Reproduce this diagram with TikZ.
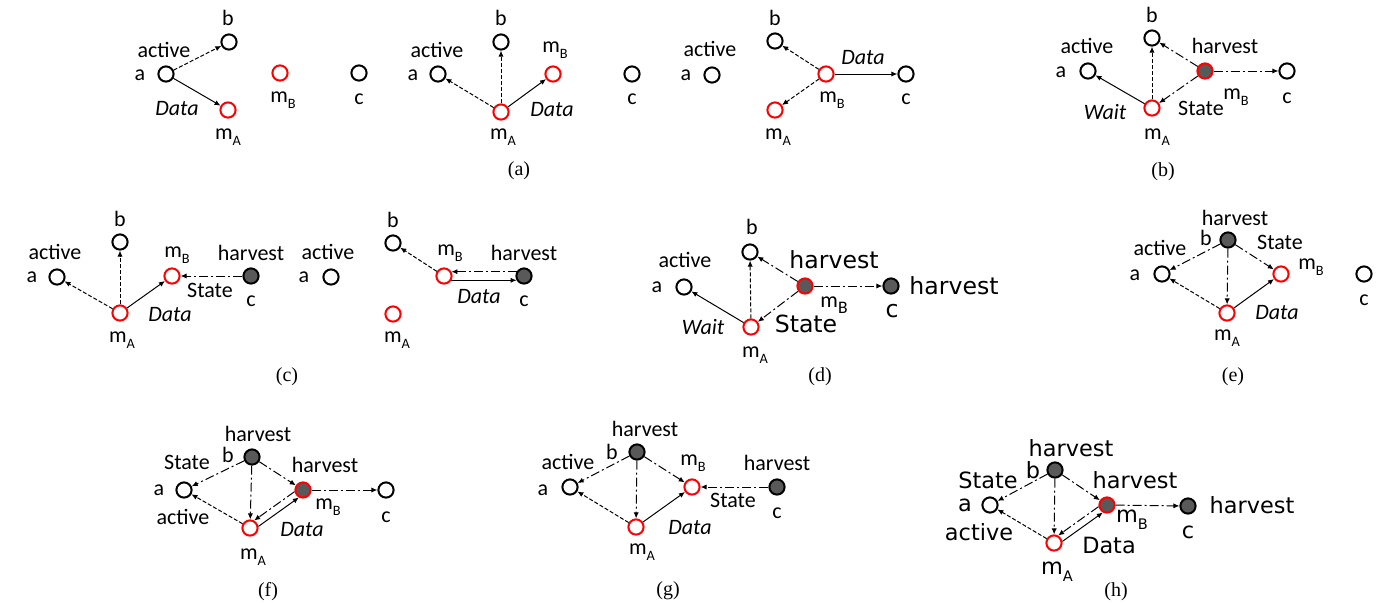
\documentclass[tikz,border=0pt]{standalone}
\usepackage{fontspec}
\setmainfont{Liberation Serif}
\newfontfamily\calfont{Carlito}
\newfontfamily\dvfont{DejaVu Sans}
\usetikzlibrary{arrows.meta}
\definecolor{hgray}{RGB}{89,89,89}
\newcommand{\mlab}[1]{m\raisebox{-0.3em}{\scalebox{0.65}{#1}}}
\newcommand{\mlabb}[1]{m\raisebox{-0.3em}{\scalebox{0.8}{#1}}}
\tikzset{
  nd/.style={circle, draw=black, line width=1pt, minimum size=7.6pt, inner sep=0pt},
  rd/.style={nd, draw=red},
  gd/.style={nd, fill=hgray},
  grd/.style={nd, draw=red, fill=hgray},
  lb/.style={inner sep=0pt, font=\calfont\fontsize{11}{13}\selectfont},
  itl/.style={inner sep=0pt, font=\calfont\itshape\fontsize{11}{13}\selectfont},
  dl/.style={inner sep=0pt, font=\dvfont\fontsize{11.8}{13}\selectfont},
  dh/.style={inner sep=0pt, font=\dvfont\fontsize{11.2}{13}\selectfont},
  capt/.style={inner sep=0pt, font=\fontsize{10}{12}\selectfont},
  sol/.style={-{Latex[length=3pt,width=2.6pt]}, line width=0.5pt},
  dsh/.style={sol, dash pattern=on 2pt off 1pt},
  dd/.style={sol, dash pattern=on 4.5pt off 1.5pt on 1pt off 1.5pt},
}
\begin{document}
\begin{tikzpicture}[x=0.5pt,y=-0.5pt]
\useasboundingbox (0,0) rectangle (1394,602);
% ---------- panel 1 (a left)
\node[nd] (p1a) at (166,74) {};
\node[nd] (p1b) at (229,42) {};
\node[rd] (p1mA) at (228,110) {};
\node[rd] (p1mB) at (280,73) {};
\node[nd] (p1c) at (359,73) {};
\node[lb] (p1la) at (140,75) {a};
\node[lb] (p1lact) at (164,50) {active};
\node[lb] (p1lb) at (228,18) {b};
\node[itl] (p1ld) at (177,109) {Data};
\node[lb] (p1lmA) at (228,137) {\mlab{A}};
\node[lb] (p1lmB) at (283,100) {\mlab{B}};
\node[lb] (p1lc) at (359,99) {c};
\draw[dsh] (p1a) -- (p1b);
\draw[sol] (p1a) -- (p1mA);
% ---------- panel 2 (a middle)
\node[nd] (p2a) at (438,74) {};
\node[nd] (p2b) at (501,42) {};
\node[rd] (p2mA) at (501,112) {};
\node[rd] (p2mB) at (553,74) {};
\node[nd] (p2c) at (632,74) {};
\node[lb] (p2la) at (413,75) {a};
\node[lb] (p2lact) at (437,50) {active};
\node[lb] (p2lb) at (501,18) {b};
\node[lb] (p2lmB) at (555,50) {\mlab{B}};
\node[itl] (p2ld) at (552,110) {Data};
\node[lb] (p2lmA) at (503,137) {\mlab{A}};
\node[lb] (p2lc) at (632,99) {c};
\draw[dsh] (p2mA) -- (p2a);
\draw[dsh] (p2mA) -- (p2b);
\draw[sol] (p2mA) -- (p2mB);
% ---------- panel 3 (a right)
\node[nd] (p3a) at (712,75) {};
\node[nd] (p3b) at (775,41) {};
\node[rd] (p3mB) at (826,74) {};
\node[rd] (p3mA) at (775,110) {};
\node[nd] (p3c) at (906,74) {};
\node[lb] (p3la) at (686,75) {a};
\node[lb] (p3lact) at (710,49) {active};
\node[lb] (p3lb) at (775,18) {b};
\node[itl] (p3ld) at (863,58) {Data};
\node[lb] (p3lmB) at (832,100) {\mlab{B}};
\node[lb] (p3lmA) at (778,137) {\mlab{A}};
\node[lb] (p3lc) at (906,99) {c};
\draw[dsh] (p3mB) -- (p3b);
\draw[dsh] (p3mB) -- (p3mA);
\draw[sol] (p3mB) -- (p3c);
\node[capt] (capa) at (519,171) {(a)};
% ---------- panel 4 (b)
\node[nd] (p4a) at (1088,71) {};
\node[nd] (p4b) at (1152,38) {};
\node[grd] (p4mB) at (1205,71) {};
\node[rd] (p4mA) at (1152,108) {};
\node[nd] (p4c) at (1287,71) {};
\node[lb] (p4lact) at (1087,46) {active};
\node[lb] (p4la) at (1061,72) {a};
\node[lb] (p4lb) at (1152,15) {b};
\node[lb] (p4lh) at (1225,46) {harvest};
\node[lb] (p4lmB) at (1236,97) {\mlab{B}};
\node[lb] (p4lc) at (1287,98) {c};
\node[lb] (p4ls) at (1201,108) {State};
\node[itl] (p4lw) at (1105,112) {Wait};
\node[lb] (p4lmA) at (1157,137) {\mlab{A}};
\draw[sol] (p4mA) -- (p4a);
\draw[dsh] (p4mA) -- (p4b);
\draw[dd] (p4mB) -- (p4b);
\draw[dd] (p4mB) -- (p4mA);
\draw[dd] (p4mB) -- (p4c);
\node[capt] (capb) at (1163,172) {(b)};
% ---------- panel 5 (c left)
\node[nd] (p5a) at (57,277) {};
\node[nd] (p5b) at (120,242) {};
\node[rd] (p5mA) at (120,313) {};
\node[rd] (p5mB) at (172,276) {};
\node[gd] (p5c) at (251,276) {};
\node[lb] (p5lact) at (55,252) {active};
\node[lb] (p5la) at (32,277) {a};
\node[lb] (p5lb) at (120,219) {b};
\node[lb] (p5lmB) at (177,255) {\mlab{B}};
\node[lb] (p5lh) at (251,253) {harvest};
\node[lb] (p5ls) at (210,290) {State};
\node[lb] (p5lc) at (251,301) {c};
\node[itl] (p5ld) at (170,315) {Data};
\node[lb] (p5lmA) at (122,340) {\mlab{A}};
\draw[dsh] (p5mA) -- (p5a);
\draw[dsh] (p5mA) -- (p5b);
\draw[sol] (p5mA) -- (p5mB);
\draw[dd] (p5c) -- (p5mB);
% ---------- panel 6 (c right)
\node[nd] (p6a) at (331,277) {};
\node[nd] (p6b) at (393,243) {};
\node[rd] (p6mB) at (444,276) {};
\node[gd] (p6c) at (524,276) {};
\node[rd] (p6mA) at (393,314) {};
\node[lb] (p6lact) at (328,252) {active};
\node[lb] (p6la) at (304,277) {a};
\node[lb] (p6lb) at (393,220) {b};
\node[lb] (p6lmB) at (450,253) {\mlab{B}};
\node[lb] (p6lh) at (524,253) {harvest};
\node[itl] (p6ld) at (479,297) {Data};
\node[lb] (p6lc) at (524,301) {c};
\node[lb] (p6lmA) at (397,340) {\mlab{A}};
\draw[dsh] (p6mB) -- (p6b);
\draw[dd] (p6c.150) -- (p6mB.30);
\draw[sol] (p6mB.330) -- (p6c.210);
\node[capt] (capc) at (287,377) {(c)};
% ---------- panel 7 (d)
\node[nd] (p7a) at (684,287) {};
\node[nd] (p7b) at (750,252) {};
\node[grd] (p7mB) at (805,286) {};
\node[gd] (p7c) at (891,286) {};
\node[rd] (p7mA) at (751,327) {};
\node[lb] (p7lact) at (685,260) {active};
\node[lb] (p7la) at (657,287) {a};
\node[lb] (p7lb) at (752,227) {b};
\node[dl] (p7lh) at (834,260) {harvest};
\node[dl] (p7lh2) at (954,286) {harvest};
\node[lb] (p7lmB) at (834,305) {\mlabb{B}};
\node[dl] (p7lc) at (892,311) {c};
\node[dl] (p7ls) at (806,324) {State};
\node[itl] (p7lw) at (703,327) {Wait};
\node[lb] (p7lmA) at (755,355) {\mlab{A}};
\draw[sol] (p7mA) -- (p7a);
\draw[dsh] (p7mA) -- (p7b);
\draw[dd] (p7mB) -- (p7b);
\draw[dd] (p7mB) -- (p7mA);
\draw[dd] (p7mB) -- (p7c);
\node[capt] (capd) at (820,377) {(d)};
% ---------- panel 8 (e)
\node[gd] (p8b) at (1228,240) {};
\node[nd] (p8a) at (1162,274) {};
\node[rd] (p8mB) at (1281,274) {};
\node[rd] (p8mA) at (1227,313) {};
\node[nd] (p8c) at (1364,274) {};
\node[lb] (p8lh) at (1235,218) {harvest};
\node[lb] (p8lb) at (1206,238) {b};
\node[lb] (p8lact) at (1160,248) {active};
\node[lb] (p8la) at (1135,275) {a};
\node[lb] (p8ls) at (1280,242) {State};
\node[lb] (p8lmB) at (1311,267) {\mlab{B}};
\node[lb] (p8lc) at (1364,300) {c};
\node[itl] (p8ld) at (1277,313) {Data};
\node[lb] (p8lmA) at (1227,338) {\mlab{A}};
\draw[dd] (p8b) -- (p8a);
\draw[dd] (p8b) -- (p8mA);
\draw[dd] (p8b) -- (p8mB);
\draw[dsh] (p8mA) -- (p8a);
\draw[sol] (p8mA) -- (p8mB);
\node[capt] (cape) at (1233,377) {(e)};
% ---------- panel 9 (f)
\node[gd] (p9b) at (252,457) {};
\node[nd] (p9a) at (184,490) {};
\node[grd] (p9mB) at (303,490) {};
\node[nd] (p9c) at (386,490) {};
\node[rd] (p9mA) at (250,528) {};
\node[lb] (p9lh) at (258,434) {harvest};
\node[lb] (p9lb) at (228,455) {b};
\node[lb] (p9ls) at (187,462) {State};
\node[lb] (p9la) at (159,490) {a};
\node[lb] (p9lact) at (183,517) {active};
\node[lb] (p9lh2) at (325,465) {harvest};
\node[lb] (p9lmB) at (328,507) {\mlab{B}};
\node[lb] (p9lc) at (386,517) {c};
\node[itl] (p9ld) at (302,530) {Data};
\node[lb] (p9lmA) at (253,557) {\mlab{A}};
\draw[dd] (p9b) -- (p9a);
\draw[dd] (p9b) -- (p9mA);
\draw[dd] (p9b) -- (p9mB);
\draw[dsh] (p9mA) -- (p9a);
\draw[sol] (p9mA.11) -- (p9mB.241);
\draw[dd] (p9mB.191) -- (p9mA.61);
\draw[dd] (p9mB) -- (p9c);
\node[capt] (capf) at (268,592) {(f)};
% ---------- panel 10 (g)
\node[gd] (p10b) at (637,452) {};
\node[nd] (p10a) at (570,487) {};
\node[rd] (p10mB) at (692,487) {};
\node[gd] (p10c) at (777,487) {};
\node[rd] (p10mA) at (636,527) {};
\node[lb] (p10lh) at (645,429) {harvest};
\node[lb] (p10lb) at (612,452) {b};
\node[lb] (p10lact) at (568,462) {active};
\node[lb] (p10la) at (543,490) {a};
\node[lb] (p10lmB) at (693,463) {\mlab{B}};
\node[lb] (p10lh2) at (777,463) {harvest};
\node[lb] (p10ls) at (733,500) {State};
\node[lb] (p10lc) at (777,513) {c};
\node[itl] (p10ld) at (690,528) {Data};
\node[lb] (p10lmA) at (642,552) {\mlab{A}};
\draw[dd] (p10b) -- (p10a);
\draw[dd] (p10b) -- (p10mA);
\draw[dd] (p10b) -- (p10mB);
\draw[dsh] (p10mA) -- (p10a);
\draw[sol] (p10mA) -- (p10mB);
\draw[dd] (p10c) -- (p10mB);
\node[capt] (capg) at (668,591) {(g)};
% ---------- panel 11 (h)
\node[gd] (p11b) at (1055,470) {};
\node[nd] (p11a) at (990,505) {};
\node[grd] (p11mB) at (1107,505) {};
\node[gd] (p11c) at (1188,506) {};
\node[rd] (p11mA) at (1054,543) {};
\node[dh] (p11lh) at (1071,448) {harvest};
\node[dh] (p11lb) at (1033,470) {b};
\node[dh] (p11ls) at (988,480) {State};
\node[dh] (p11la) at (965,505) {a};
\node[dh] (p11lact) at (979,532) {active};
\node[dh] (p11lh2) at (1135,480) {harvest};
\node[dh] (p11lmB) at (1132,520) {\mlab{B}};
\node[dh] (p11lc) at (1188,532) {c};
\node[dh] (p11lh3) at (1252,505) {harvest};
\node[dh] (p11ld) at (1109,545) {Data};
\node[dh] (p11lmA) at (1057,572) {\mlab{A}};
\draw[dd] (p11b) -- (p11a);
\draw[dd] (p11b) -- (p11mA);
\draw[dd] (p11b) -- (p11mB);
\draw[dsh] (p11mA) -- (p11a);
\draw[sol] (p11mA.11) -- (p11mB.241);
\draw[dd] (p11mB.191) -- (p11mA.61);
\draw[dd] (p11mB) -- (p11c);
\node[capt] (caph) at (1116,592) {(h)};
\end{tikzpicture}
\end{document}
